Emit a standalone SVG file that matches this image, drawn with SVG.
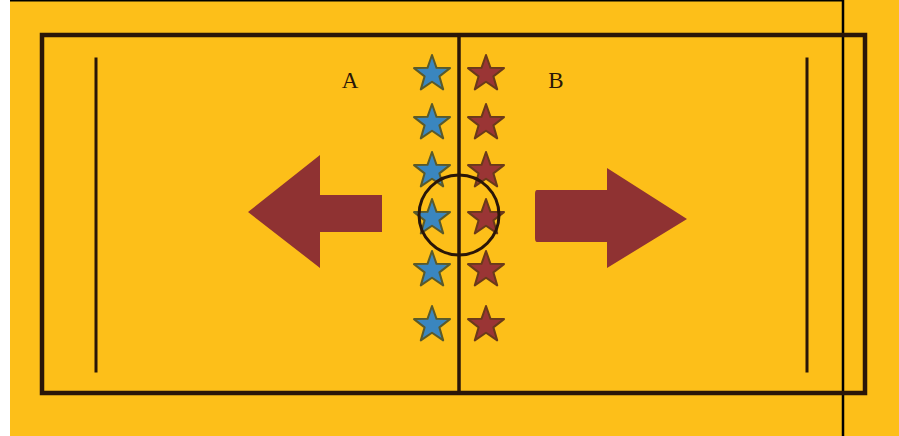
<svg xmlns="http://www.w3.org/2000/svg" width="899" height="436" viewBox="0 0 899 436">
<defs>
<style>
.line{stroke:#2a1608;fill:none;stroke-linecap:square}
.blue{fill:#3a86bf;stroke:#5a5a2a;stroke-width:2;stroke-linejoin:round}
.red{fill:#9a3535;stroke:#6a3a1a;stroke-width:2;stroke-linejoin:round}
.arrow{fill:#8f3232}
.lbl{font-family:"Liberation Serif",serif;font-size:23px;fill:#2a1608}
</style>
<polygon id="star" points="0,-19 4.5,-6.2 18,-5.9 7.4,2.4 11.2,15.4 0,7.7 -11.2,15.4 -7.4,2.4 -18,-5.9 -4.5,-6.2"/>
</defs>
<rect x="0" y="0" width="899" height="436" fill="#fdbf19"/>
<rect x="0" y="0" width="10" height="436" fill="#ffffff"/>
<line x1="10" y1="0.5" x2="843" y2="0.5" stroke="#000" stroke-width="2"/>
<line x1="843" y1="0" x2="843" y2="436" stroke="#000" stroke-width="2.5"/>
<g id="court">
<rect x="42" y="35" width="823" height="358" class="line" stroke-width="4.5"/>
<line x1="96" y1="59" x2="96" y2="371" class="line" stroke-width="3" stroke-linecap="round"/>
<line x1="807" y1="59" x2="807" y2="371" class="line" stroke-width="3" stroke-linecap="round"/>
<line x1="459" y1="35" x2="459" y2="393" class="line" stroke-width="3.5"/>
</g>
<g id="team-a">
<use href="#star" class="blue" x="432" y="74"/>
<use href="#star" class="blue" x="432" y="123"/>
<use href="#star" class="blue" x="432" y="171"/>
<use href="#star" class="blue" x="432" y="218"/>
<use href="#star" class="blue" x="432" y="270"/>
<use href="#star" class="blue" x="432" y="325"/>
</g>
<g id="team-b">
<use href="#star" class="red" x="486" y="74"/>
<use href="#star" class="red" x="486" y="123"/>
<use href="#star" class="red" x="486" y="171"/>
<use href="#star" class="red" x="486" y="218"/>
<use href="#star" class="red" x="486" y="270"/>
<use href="#star" class="red" x="486" y="325"/>
</g>
<g id="center-circle">
<circle cx="459" cy="215" r="40" class="line" stroke-width="3"/>
</g>
<g id="labels">
<text class="lbl" x="350" y="88" text-anchor="middle">A</text>
<text class="lbl" x="556" y="88" text-anchor="middle">B</text>
</g>
<g id="arrows">
<polygon id="arrow-left" class="arrow" points="248,212 320,155 320,195 382,195 382,232 320,232 320,268"/>
<path id="arrow-right" class="arrow" d="M537,190 L607,190 L607,168 L687,219 L607,268 L607,242 L537,242 Q535,242 535,238 L535,194 Q535,190 537,190 Z"/>
</g>
</svg>
